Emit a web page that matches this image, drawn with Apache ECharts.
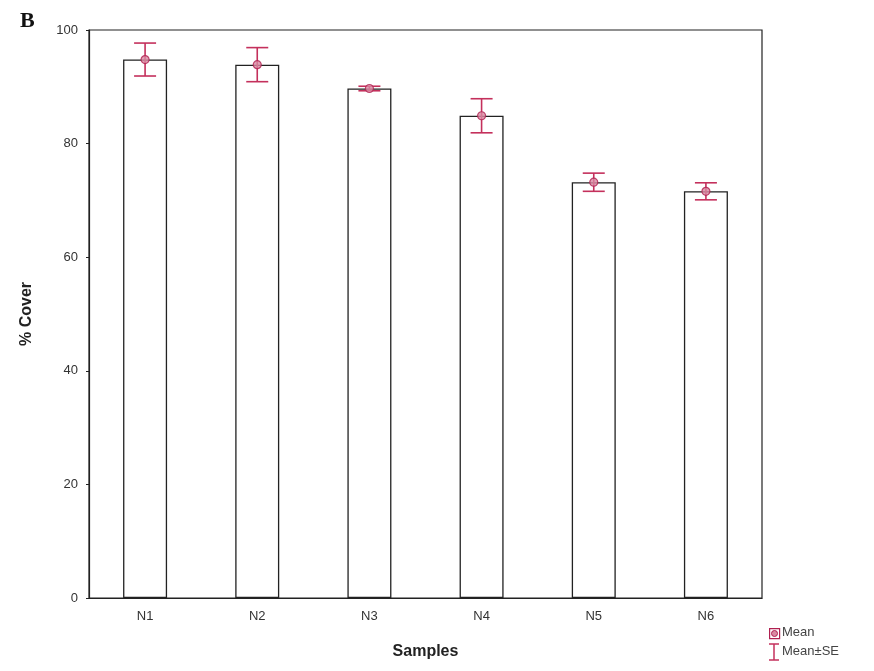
<!DOCTYPE html>
<html>
<head>
<meta charset="utf-8">
<script src="https://cdn.jsdelivr.net/npm/echarts@6/dist/echarts.min.js"></script>
<style>html,body{margin:0;padding:0;background:#fff;}#c{width:874px;height:671px;}</style>
</head>
<body>
<div id="c"></div>
<script>
const categories = ['N1', 'N2', 'N3', 'N4', 'N5', 'N6'];
const means = [94.8, 93.9, 89.7, 84.9, 73.2, 71.6];
const se = [2.9, 3.0, 0.4, 3.0, 1.6, 1.5];
const yTicks = [0, 20, 40, 60, 80, 100];

const errColor = '#c4305c';
const chart = echarts.init(document.getElementById('c'));
const errData = categories.map((c, i) => [i, means[i] - se[i], means[i] + se[i]]);

chart.setOption({
  animation: false,
  backgroundColor: '#fff',
  grid: { left: 89, right: 112, top: 30, bottom: 73, show: true, borderColor: '#222', borderWidth: 1.2, backgroundColor: 'transparent' },
  xAxis: {
    type: 'category', data: categories,
    name: 'Samples', nameLocation: 'middle', nameGap: 46,
    nameTextStyle: { fontFamily: 'Liberation Sans', fontWeight: 'bold', fontSize: 16, color: '#222' },
    axisLine: { lineStyle: { color: '#222', width: 1.2 } },
    axisTick: { alignWithLabel: true, inside: true, length: 3, lineStyle: { color: '#222' } },
    axisLabel: { color: '#333', fontFamily: 'Liberation Sans', fontSize: 13, margin: 12 }
  },
  yAxis: {
    type: 'value', min: 0, max: 100, interval: 20,
    name: '% Cover', nameLocation: 'middle', nameGap: 54,
    nameTextStyle: { fontFamily: 'Liberation Sans', fontWeight: 'bold', fontSize: 16, color: '#222' },
    axisLine: { show: true, lineStyle: { color: '#222', width: 1.2 } },
    axisTick: { show: true, inside: false, length: 3, lineStyle: { color: '#222' } },
    splitLine: { show: false },
    axisLabel: { color: '#333', fontFamily: 'Liberation Sans', fontSize: 13, margin: 11,
      formatter: v => yTicks.includes(v) ? String(v) : '' }
  },
  series: [
    {
      type: 'bar', data: means, barWidth: 44,
      itemStyle: { color: '#fff', borderColor: '#222', borderWidth: 1.3 },
      z: 2
    },
    {
      type: 'custom', name: 'Mean±SE', data: errData, z: 5,
      renderItem: (params, api) => {
        const x = api.value(0);
        const lo = api.coord([x, api.value(1)]);
        const hi = api.coord([x, api.value(2)]);
        const hw = 11;
        const st = { stroke: errColor, lineWidth: 1.6 };
        return { type: 'group', children: [
          { type: 'line', shape: { x1: lo[0], y1: lo[1], x2: hi[0], y2: hi[1] }, style: st },
          { type: 'line', shape: { x1: lo[0] - hw, y1: lo[1], x2: lo[0] + hw, y2: lo[1] }, style: st },
          { type: 'line', shape: { x1: hi[0] - hw, y1: hi[1], x2: hi[0] + hw, y2: hi[1] }, style: st }
        ]};
      }
    },
    {
      type: 'scatter', name: 'Mean', data: means, symbol: 'circle', symbolSize: 8, z: 6,
      itemStyle: { color: '#d98aa2', borderColor: '#b02050', borderWidth: 1.2 }
    }
  ],
  graphic: [
    { type: 'text', left: 20, top: 10, style: { text: 'B', font: 'bold 22px "Liberation Serif"', fill: '#111' } },
    { type: 'rect', left: 769, top: 628, shape: { width: 10, height: 10 }, style: { fill: '#fff', stroke: '#b02050', lineWidth: 1.2 } },
    { type: 'circle', left: 771, top: 630, shape: { r: 3 }, style: { fill: '#d98aa2', stroke: '#b02050', lineWidth: 1 } },
    { type: 'text', left: 782, top: 626, style: { text: 'Mean', font: '13px "Liberation Sans"', fill: '#444' } },
    { type: 'line', shape: { x1: 774, y1: 644, x2: 774, y2: 660 }, style: { stroke: errColor, lineWidth: 1.5 } },
    { type: 'line', shape: { x1: 769, y1: 644, x2: 779, y2: 644 }, style: { stroke: errColor, lineWidth: 1.5 } },
    { type: 'line', shape: { x1: 769, y1: 660, x2: 779, y2: 660 }, style: { stroke: errColor, lineWidth: 1.5 } },
    { type: 'text', left: 782, top: 645, style: { text: 'Mean±SE', font: '13px "Liberation Sans"', fill: '#444' } }
  ]
});
</script>
</body>
</html>
